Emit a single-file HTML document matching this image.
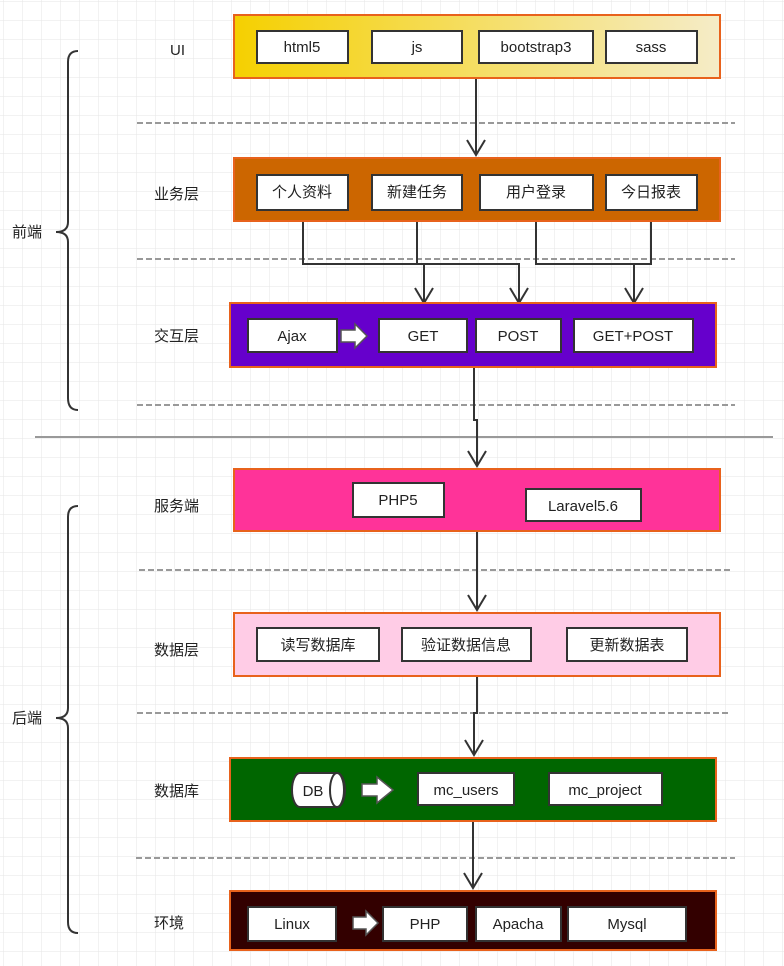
<!DOCTYPE html>
<html><head><meta charset="utf-8"><style>
html,body{margin:0;padding:0;background:#fff}
svg{display:block}
text{font-family:"Liberation Sans","Noto Sans CJK SC",sans-serif;font-size:15px;fill:#222}
.w{fill:#fff;stroke:#333;stroke-width:2}
.ln{stroke:#333;stroke-width:2;fill:none}
.ds{stroke:#999;stroke-width:2;stroke-dasharray:6,3}
</style></head><body>
<svg width="784" height="966" viewBox="0 0 784 966" xmlns="http://www.w3.org/2000/svg">
<defs>
<pattern id="g" x="3" y="1" width="19" height="19" patternUnits="userSpaceOnUse">
<path d="M0 0H19M0 0V19" stroke="#e6e6e6" stroke-width="1" fill="none"/>
</pattern>
<linearGradient id="yg" x1="0" x2="1"><stop offset="0" stop-color="#f5d000"/><stop offset="1" stop-color="#f5ecc8"/></linearGradient>
</defs>
<rect width="784" height="966" fill="url(#g)"/>

<line class="ds" x1="137" y1="123" x2="735" y2="123"/>
<line class="ds" x1="137" y1="259" x2="735" y2="259"/>
<line class="ds" x1="137" y1="405" x2="735" y2="405"/>
<line class="ds" x1="139" y1="570" x2="731" y2="570"/>
<line class="ds" x1="137" y1="713" x2="731" y2="713"/>
<line class="ds" x1="136" y1="858" x2="735" y2="858" stroke="#a09090" stroke-width="3"/>
<line x1="35" y1="437" x2="773" y2="437" stroke="#999" stroke-width="2"/>

<path class="ln" d="M78 51 Q68 51 68 62 V222 Q68 232 56 232 Q68 232 68 242 V398 Q68 410 78 410"/>
<path class="ln" d="M78 506 Q68 506 68 517 V708 Q68 718 56 718 Q68 718 68 728 V922 Q68 933 78 933"/>
<text x="12" y="237">前端</text>
<text x="12" y="723">后端</text>

<text x="170" y="55">UI</text>
<text x="154" y="199">业务层</text>
<text x="154" y="341">交互层</text>
<text x="154" y="511">服务端</text>
<text x="154" y="655">数据层</text>
<text x="154" y="796">数据库</text>
<text x="154" y="928">环境</text>

<path class="ln" d="M476 78 V155 M467 140 L476 155 L485 140"/>
<path class="ln" d="M303 210 V264 H519 V303 M417 210 V264 M424 264 V303 M536 210 V264 H651 V210 M634 264 V303"/>
<path class="ln" d="M415 288 L424 303 L433 288 M510 288 L519 303 L528 288 M625 288 L634 303 L643 288"/>
<path class="ln" d="M474 367 V420 H477 V466 M468 451 L477 466 L486 451"/>
<path class="ln" d="M477 531 V610 M468 595 L477 610 L486 595"/>
<path class="ln" d="M477 676 V713 H474 V755 M465 740 L474 755 L483 740"/>
<path class="ln" d="M473 821 V888 M464 873 L473 888 L482 873"/>

<rect x="234" y="15" width="486" height="63" fill="url(#yg)" stroke="#e8621c" stroke-width="2"/>
<rect class="w" x="257" y="31" width="91" height="32"/><text x="302" y="52" text-anchor="middle">html5</text>
<rect class="w" x="372" y="31" width="90" height="32"/><text x="417" y="52" text-anchor="middle">js</text>
<rect class="w" x="479" y="31" width="114" height="32"/><text x="536" y="52" text-anchor="middle">bootstrap3</text>
<rect class="w" x="606" y="31" width="91" height="32"/><text x="651" y="52" text-anchor="middle">sass</text>

<rect x="234" y="158" width="486" height="63" fill="#cc6600" stroke="#e8621c" stroke-width="2"/>
<rect class="w" x="257" y="175" width="91" height="35"/><text x="302" y="197" text-anchor="middle">个人资料</text>
<rect class="w" x="372" y="175" width="90" height="35"/><text x="417" y="197" text-anchor="middle">新建任务</text>
<rect class="w" x="480" y="175" width="113" height="35"/><text x="536" y="197" text-anchor="middle">用户登录</text>
<rect class="w" x="606" y="175" width="91" height="35"/><text x="651" y="197" text-anchor="middle">今日报表</text>

<rect x="230" y="303" width="486" height="64" fill="#6600cc" stroke="#e8621c" stroke-width="2"/>
<rect class="w" x="248" y="319" width="89" height="33"/><text x="292" y="341" text-anchor="middle">Ajax</text>
<path d="M341 330 H355 V324 L367 336 L355 348 V342 H341 Z" fill="#fff" stroke="#555" stroke-width="1.5"/>
<rect class="w" x="379" y="319" width="88" height="33"/><text x="423" y="341" text-anchor="middle">GET</text>
<rect class="w" x="476" y="319" width="85" height="33"/><text x="518" y="341" text-anchor="middle">POST</text>
<rect class="w" x="574" y="319" width="119" height="33"/><text x="633" y="341" text-anchor="middle">GET+POST</text>

<rect x="234" y="469" width="486" height="62" fill="#ff3399" stroke="#e8621c" stroke-width="2"/>
<rect class="w" x="353" y="483" width="91" height="34"/><text x="398" y="505" text-anchor="middle">PHP5</text>
<rect class="w" x="526" y="489" width="115" height="32"/><text x="583" y="511" text-anchor="middle">Laravel5.6</text>

<rect x="234" y="613" width="486" height="63" fill="#ffcce6" stroke="#e8621c" stroke-width="2"/>
<rect class="w" x="257" y="628" width="122" height="33"/><text x="318" y="650" text-anchor="middle">读写数据库</text>
<rect class="w" x="402" y="628" width="129" height="33"/><text x="466" y="650" text-anchor="middle">验证数据信息</text>
<rect class="w" x="567" y="628" width="120" height="33"/><text x="627" y="650" text-anchor="middle">更新数据表</text>

<rect x="230" y="758" width="486" height="63" fill="#006600" stroke="#e8621c" stroke-width="2"/>
<path d="M300 773 H337 A8 17 0 0 1 337 807 H300 A8 17 0 0 1 300 773 Z" fill="#fff" stroke="#333" stroke-width="2"/>
<ellipse cx="337" cy="790" rx="7" ry="17" fill="#fff" stroke="#333" stroke-width="2"/>
<text x="313" y="796" text-anchor="middle">DB</text>
<path d="M362 784 H377 V777 L393 790 L377 803 V796 H362 Z" fill="#fff" stroke="#555" stroke-width="1.5"/>
<rect class="w" x="418" y="773" width="96" height="32"/><text x="466" y="795" text-anchor="middle">mc_users</text>
<rect class="w" x="549" y="773" width="113" height="32"/><text x="605" y="795" text-anchor="middle">mc_project</text>

<rect x="230" y="891" width="486" height="59" fill="#330000" stroke="#e8621c" stroke-width="2"/>
<rect class="w" x="248" y="907" width="88" height="34"/><text x="292" y="929" text-anchor="middle">Linux</text>
<path d="M353 917 H366 V911 L378 923 L366 935 V929 H353 Z" fill="#fff" stroke="#555" stroke-width="1.5"/>
<rect class="w" x="383" y="907" width="84" height="34"/><text x="425" y="929" text-anchor="middle">PHP</text>
<rect class="w" x="476" y="907" width="85" height="34"/><text x="518" y="929" text-anchor="middle">Apacha</text>
<rect class="w" x="568" y="907" width="118" height="34"/><text x="627" y="929" text-anchor="middle">Mysql</text>
</svg>
</body></html>
